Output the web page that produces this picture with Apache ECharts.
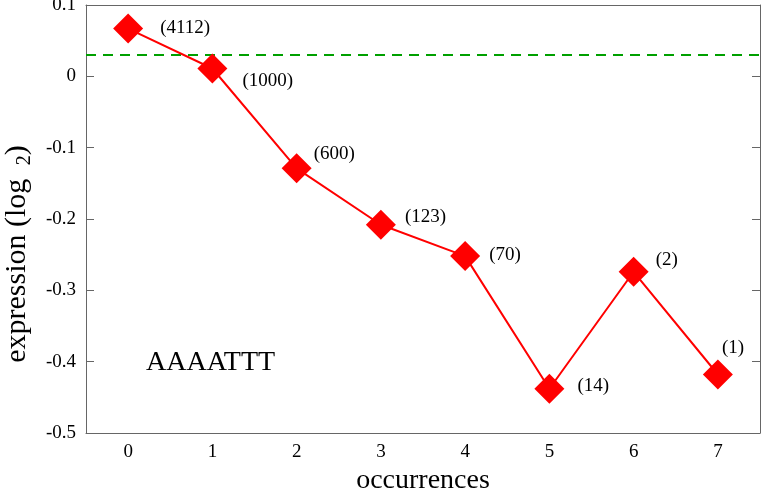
<!DOCTYPE html>
<html>
<head>
<meta charset="utf-8">
<script src="https://cdn.jsdelivr.net/npm/echarts@6/dist/echarts.min.js"></script>
<style>html,body{margin:0;padding:0;background:#fff;}#c{width:763px;height:489px;}</style>
</head>
<body>
<div id="c"></div>
<script>
var categories = ['0', '1', '2', '3', '4', '5', '6', '7'];
var expression = [0.067, 0.011, -0.129, -0.208, -0.252, -0.438, -0.274, -0.418];
var counts = ['(4112)', '(1000)', '(600)', '(123)', '(70)', '(14)', '(2)', '(1)'];
var baseline = 0.025;
var yTicks = { min: -0.5, max: 0.1, interval: 0.1 };
var motif = 'AAAATTT';

// label placement (layout only)
var labelOffsets = [[32, -1], [30, 13], [17, -14], [24, -8], [24, -1], [28, -3], [22, -12], [4, -26]];

var serif = 'Liberation Serif, Times New Roman, serif';
var axisColor = '#666';

var chart = echarts.init(document.getElementById('c'));
var seriesData = expression.map(function (v, i) {
  return {
    value: v,
    label: {
      show: true,
      formatter: counts[i],
      position: 'inside',
      align: 'left',
      verticalAlign: 'middle',
      offset: labelOffsets[i],
      fontFamily: serif,
      fontSize: 19,
      color: '#000'
    }
  };
});

chart.setOption({
  animation: false,
  backgroundColor: '#fff',
  title: {
    text: motif,
    left: 141,
    top: 344,
    textStyle: { fontFamily: serif, fontSize: 28, fontWeight: 'normal', color: '#000' }
  },
  grid: { left: 86, right: 3, top: 5, bottom: 56, containLabel: false, outerBoundsMode: 'none' },
  xAxis: [{
    type: 'category',
    data: categories,
    boundaryGap: true,
    name: 'occurrences',
    nameLocation: 'middle',
    nameGap: 30,
    nameTextStyle: { fontFamily: serif, fontSize: 28, color: '#000' },
    axisLine: { onZero: false, lineStyle: { color: axisColor, width: 1 } },
    axisTick: { inside: true, length: 8, alignWithLabel: true, lineStyle: { color: axisColor } },
    axisLabel: { fontFamily: serif, fontSize: 19, color: '#000', margin: 10 },
    splitLine: { show: false }
  }, {
    type: 'category',
    data: categories,
    position: 'top',
    boundaryGap: true,
    axisLine: { show: true, onZero: false, lineStyle: { color: axisColor, width: 1 } },
    axisTick: { inside: true, length: 8, alignWithLabel: true, lineStyle: { color: axisColor } },
    axisLabel: { show: false },
    splitLine: { show: false }
  }],
  yAxis: [{
    type: 'value',
    min: yTicks.min,
    max: yTicks.max,
    interval: yTicks.interval,
    axisLine: { show: true, onZero: false, lineStyle: { color: axisColor, width: 1 } },
    axisTick: { show: true, inside: true, length: 8, lineStyle: { color: axisColor } },
    axisLabel: {
      fontFamily: serif, fontSize: 19, color: '#000', margin: 10,
      formatter: function (v) { return String(Math.round(v * 10) / 10); }
    },
    splitLine: { show: false }
  }, {
    type: 'value',
    position: 'right',
    min: yTicks.min,
    max: yTicks.max,
    interval: yTicks.interval,
    axisLine: { show: true, onZero: false, lineStyle: { color: axisColor, width: 1 } },
    axisTick: { show: true, inside: true, length: 8, lineStyle: { color: axisColor } },
    axisLabel: { show: false },
    splitLine: { show: false }
  }],
  graphic: [{
    type: 'text',
    x: 17,
    y: 254,
    rotation: Math.PI / 2,
    style: {
      text: 'expression (log {sub|2})',
      rich: { sub: { fontSize: 20, fontFamily: serif, padding: [15, 0, 0, 6] } },
      font: '30px ' + serif,
      fill: '#000',
      align: 'center',
      verticalAlign: 'middle'
    }
  }],
  series: [{
    type: 'line',
    data: seriesData,
    symbol: 'diamond',
    symbolSize: 30,
    lineStyle: { color: '#ff0000', width: 2 },
    itemStyle: { color: '#ff0000' },
    z: 3,
    markLine: {
      silent: true,
      symbol: ['none', 'none'],
      label: { show: false },
      lineStyle: { color: '#00a000', width: 2, type: [10, 7] },
      data: [{ yAxis: baseline }],
      z: 2
    }
  }]
});
</script>
</body>
</html>
